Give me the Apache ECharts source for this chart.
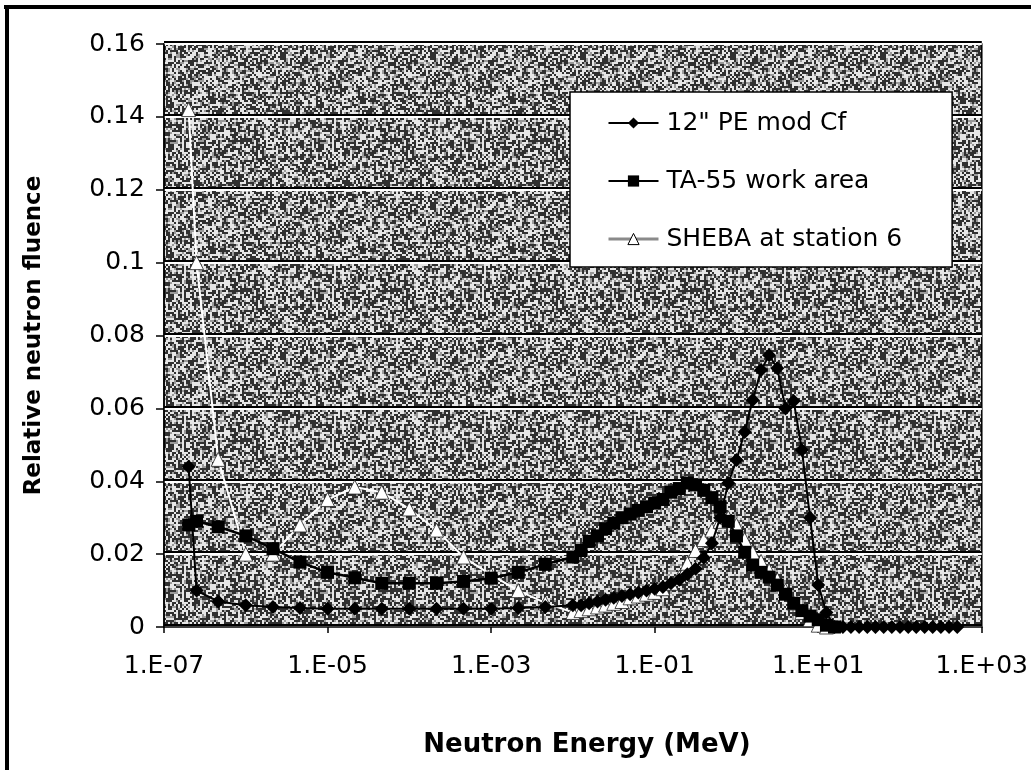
<!DOCTYPE html>
<html>
<head>
<meta charset="utf-8">
<title>Relative neutron fluence</title>
<script src="https://cdn.jsdelivr.net/npm/echarts@6/dist/echarts.min.js"></script>
<style>
html, body { margin: 0; padding: 0; background: #fff; }
#main { width: 1031px; height: 770px; }
</style>
</head>
<body>
<div id="main"></div>
<script>
// neutron energy, MeV (3 points per decade below 1e-2, 10 per decade above)
var energies = [
	2.0e-7, 2.5e-7, 4.6e-7, 1.0e-6, 2.15e-6, 4.6e-6, 1.0e-5, 2.15e-5, 4.6e-5, 1.0e-4, 2.15e-4, 4.6e-4, 1.0e-3, 2.15e-3, 4.6e-3,
	0.01, 0.0126, 0.0158, 0.02, 0.0251, 0.0316, 0.0398, 0.0501, 0.0631, 0.0794,
	0.1, 0.126, 0.158, 0.2, 0.251, 0.316, 0.398, 0.501, 0.631, 0.794,
	1, 1.26, 1.58, 2.0, 2.51, 3.16, 3.98, 5.01, 6.31, 7.94,
	10, 12.6, 15.8, 20, 25.1, 31.6, 39.8, 50.1, 63.1, 79.4,
	100, 126, 158, 200, 251, 316, 398, 501
];

// 12" PE mod Cf
var peModCf = [
	0.044, 0.010, 0.007, 0.006, 0.0055, 0.0052, 0.005, 0.005, 0.005, 0.005, 0.005, 0.005, 0.005, 0.0052, 0.0055,
	0.006, 0.006, 0.0065, 0.007, 0.0075, 0.008, 0.0085, 0.009, 0.0095, 0.010,
	0.0105, 0.011, 0.012, 0.013, 0.0145, 0.016, 0.019, 0.023, 0.030, 0.0395,
	0.0458, 0.0535, 0.0623, 0.0705, 0.0746, 0.071, 0.060, 0.062, 0.0486, 0.030,
	0.0115, 0.004, 0, 0, 0, 0, 0, 0, 0, 0,
	0, 0, 0, 0, 0, 0, 0, 0
];

// TA-55 work area
var ta55WorkArea = [
	0.028, 0.029, 0.0275, 0.025, 0.0215, 0.0178, 0.015, 0.0135, 0.012, 0.012, 0.012, 0.0125, 0.0134, 0.015, 0.0172,
	0.0192, 0.021, 0.0235, 0.025, 0.027, 0.0285, 0.030, 0.031, 0.032, 0.033,
	0.034, 0.035, 0.037, 0.038, 0.0395, 0.039, 0.0375, 0.0355, 0.033, 0.029,
	0.025, 0.0205, 0.017, 0.015, 0.0137, 0.0115, 0.009, 0.0065, 0.0045, 0.003,
	0.002, 0.0005, 0, null, null, null, null, null, null, null,
	null, null, null, null, null, null, null, null
];

// SHEBA at station 6
var shebaStation6 = [
	0.142, 0.100, 0.046, 0.020, 0.020, 0.028, 0.035, 0.0384, 0.037, 0.0324, 0.0266, 0.0192, 0.0143, 0.010, 0.0066,
	0.004, 0.0045, 0.005, 0.0055, 0.006, 0.0065, 0.007, 0.008, 0.0085, 0.009,
	0.0095, 0.0105, 0.012, 0.0137, 0.0175, 0.021, 0.024, 0.0266, 0.029, 0.030,
	0.028, 0.024, 0.0205, 0.018, 0.0155, 0.013, 0.010, 0.0066, 0.004, 0.002,
	0.0005, 0, null, null, null, null, null, null, null, null,
	null, null, null, null, null, null, null, null
];

var seriesNames = ['12" PE mod Cf', 'TA-55 work area', 'SHEBA at station 6'];

function pairs(vals){
	return energies.map(function(e, i){ return [e, vals[i]]; });
}

// 1.E-07 style labels
function fmtE(v){
	var p = Math.round(Math.log(v) / Math.LN10);
	var a = Math.abs(p);
	return '1.E' + (p < 0 ? '-' : '+') + (a < 10 ? '0' + a : a);
}

// grainy photocopy look for the plot area (fixed seed, texture only)
function makeSpeckle(){
	var size = 150;
	var cvs = document.createElement('canvas');
	cvs.width = size;
	cvs.height = size;
	var ctx = cvs.getContext('2d');
	ctx.fillStyle = '#303030';
	ctx.fillRect(0, 0, size, size);
	var seed = 20231;
	for(var y = 0; y < size; y += 2){
		for(var x = 0; x < size; x += 2){
			seed = (seed * 16807) % 2147483647;
			var r = seed / 2147483647;
			if(r < 0.40){
				ctx.fillStyle = '#e6e6e6';
				ctx.fillRect(x, y, 2, 2);
			} else if(r < 0.55){
				ctx.fillStyle = '#9a9a9a';
				ctx.fillRect(x, y, 2, 2);
			}
		}
	}
	return cvs;
}

var font = 'DejaVu Sans';
var chart = echarts.init(document.getElementById('main'));
var option = {
	backgroundColor: '#fff',
	animation: false,
	graphic: [
		{type: 'rect', left: 4, top: 5, shape: {width: 1027, height: 4}, style: {fill: '#000'}},
		{type: 'rect', left: 5, top: 5, shape: {width: 4, height: 765}, style: {fill: '#000'}}
	],
	grid: {
		left: 164,
		right: 45,
		top: 44,
		bottom: 143,
		show: true,
		backgroundColor: {image: makeSpeckle(), repeat: 'repeat'},
		borderColor: '#000',
		borderWidth: 1.5
	},
	legend: {
		orient: 'vertical',
		left: 570,
		top: 92,
		padding: [17, 50, 14, 37],
		itemWidth: 50,
		itemHeight: 14,
		itemGap: 30,
		backgroundColor: '#fff',
		borderColor: '#000',
		borderWidth: 1.5,
		textStyle: {fontFamily: font, fontSize: 25, color: '#000', lineHeight: 28, padding: [0, 0, 0, 3]},
		data: [
			{name: seriesNames[0]},
			{name: seriesNames[1]},
			{name: seriesNames[2], lineStyle: {color: '#8a8a8a', width: 3}, itemStyle: {color: '#fff', borderColor: '#000', borderWidth: 1}}
		]
	},
	xAxis: {
		type: 'log',
		logBase: 10,
		min: 1e-7,
		max: 1e3,
		interval: 2,
		axisLine: {lineStyle: {color: '#000', width: 1.5}},
		axisTick: {length: 6, lineStyle: {color: '#000', width: 1.5}},
		splitLine: {show: false},
		axisLabel: {margin: 27, fontFamily: font, fontSize: 25, color: '#000', formatter: fmtE},
		name: 'Neutron Energy (MeV)',
		nameLocation: 'middle',
		nameGap: 105,
		nameTextStyle: {fontFamily: font, fontWeight: 'bold', fontSize: 26, color: '#000', padding: [0, 0, 0, 28]}
	},
	yAxis: {
		type: 'value',
		min: 0,
		max: 0.16,
		interval: 0.02,
		axisLine: {show: true, lineStyle: {color: '#000', width: 1.5}},
		axisTick: {show: true, length: 8, lineStyle: {color: '#000', width: 1.5}},
		splitLine: {lineStyle: {color: '#fff', width: 2, shadowColor: '#000', shadowOffsetY: -2}},
		axisLabel: {margin: 19, fontFamily: font, fontSize: 25, color: '#000'},
		name: 'Relative neutron fluence',
		nameLocation: 'middle',
		nameGap: 118,
		nameTextStyle: {fontFamily: font, fontWeight: 'bold', fontSize: 23, color: '#000'}
	},
	series: [
		{
			name: seriesNames[0],
			type: 'line',
			z: 5,
			data: pairs(peModCf),
			symbol: 'diamond',
			symbolSize: 14,
			lineStyle: {color: '#000', width: 2},
			itemStyle: {color: '#000'}
		},
		{
			name: seriesNames[1],
			type: 'line',
			z: 4,
			data: pairs(ta55WorkArea),
			symbol: 'rect',
			symbolSize: 13,
			lineStyle: {color: '#000', width: 2.5},
			itemStyle: {color: '#000'}
		},
		{
			name: seriesNames[2],
			type: 'line',
			z: 3,
			data: pairs(shebaStation6),
			symbol: 'triangle',
			symbolSize: 14,
			lineStyle: {color: '#fff', width: 2},
			itemStyle: {color: '#fff', borderColor: '#222', borderWidth: 0.8}
		}
	]
};
chart.setOption(option);
</script>
</body>
</html>
